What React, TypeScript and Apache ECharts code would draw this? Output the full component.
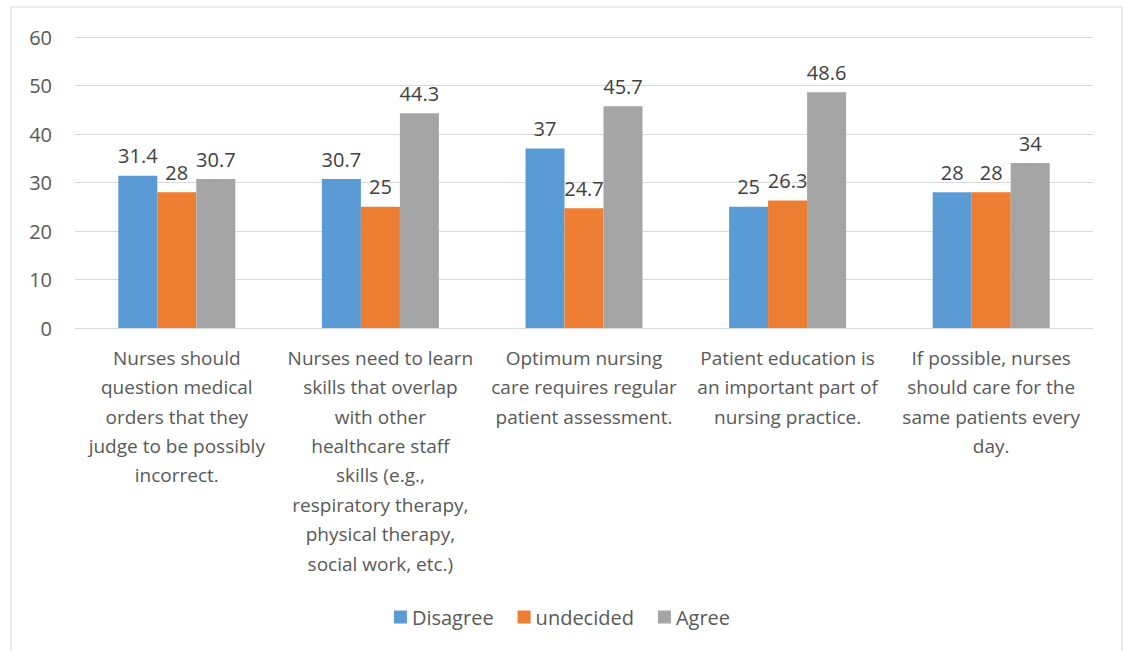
import React, { useEffect, useRef } from "react";
import * as echarts from "echarts";

const categories = [
  "Nurses should\nquestion medical\norders that they\njudge to be possibly\nincorrect.",
  "Nurses need to learn\nskills that overlap\nwith other\nhealthcare staff\nskills (e.g.,\nrespiratory therapy,\nphysical therapy,\nsocial work, etc.)",
  "Optimum nursing\ncare requires regular\npatient assessment.",
  "Patient education is\nan important part of\nnursing practice.",
  "If possible, nurses\nshould care for the\nsame patients every\nday.",
];
const disagree = [31.4, 30.7, 37, 25, 28];
const undecided = [28, 25, 24.7, 26.3, 28];
const agree = [30.7, 44.3, 45.7, 48.6, 34];
const seriesNames = ["Disagree", "undecided", "Agree"];
const colors = ["#5B9BD5", "#ED7D31", "#A5A5A5"];

const FONT = "'Open Sans', 'Noto Sans', sans-serif";

export default function App() {
  const ref = useRef<HTMLDivElement>(null);
  useEffect(() => {
    if (!ref.current) return;
    const chart = echarts.init(ref.current, undefined, { renderer: "svg" });
    const mk = (name: string, data: number[], color: string) => ({
      name,
      type: "bar",
      data,
      barWidth: 39,
      barGap: "0%",
      itemStyle: { color },
      label: {
        show: true,
        position: "top",
        distance: 10,
        color: "#404040",
        fontSize: 20,
        fontFamily: FONT,
      },
    });
    chart.setOption({
      animation: false,
      textStyle: { fontFamily: FONT },
      graphic: [
        {
          type: "rect",
          shape: { x: 11, y: 7, width: 1111, height: 680 },
          style: { fill: "none", stroke: "#d9d9d9", lineWidth: 1 },
          silent: true,
        },
      ],
      legend: {
        data: seriesNames,
        top: 602,
        left: "center",
        itemWidth: 13,
        itemHeight: 13,
        itemGap: 24,
        icon: "rect",
        textStyle: { color: "#595959", fontSize: 20, fontFamily: FONT },
      },
      grid: { left: 75, right: 31, top: 37, bottom: 323, containLabel: false },
      xAxis: {
        type: "category",
        data: categories,
        axisLine: { show: true, lineStyle: { color: "#d9d9d9", width: 1 } },
        axisTick: { show: false },
        axisLabel: {
          interval: 0,
          color: "#595959",
          fontSize: 19,
          lineHeight: 29.4,
          margin: 15,
          fontFamily: FONT,
        },
      },
      yAxis: {
        type: "value",
        min: 0,
        max: 60,
        interval: 10,
        axisLine: { show: false },
        axisTick: { show: false },
        splitLine: { lineStyle: { color: "#d9d9d9", width: 1 } },
        axisLabel: { color: "#595959", fontSize: 20, margin: 23, fontFamily: FONT },
      },
      series: [
        mk(seriesNames[0], disagree, colors[0]),
        mk(seriesNames[1], undecided, colors[1]),
        mk(seriesNames[2], agree, colors[2]),
      ],
    });
    return () => chart.dispose();
  }, []);
  return (
    <div
      ref={ref}
      style={{ position: "absolute", left: 0, top: 0, width: 1124, height: 651, background: "#fff" }}
    />
  );
}
